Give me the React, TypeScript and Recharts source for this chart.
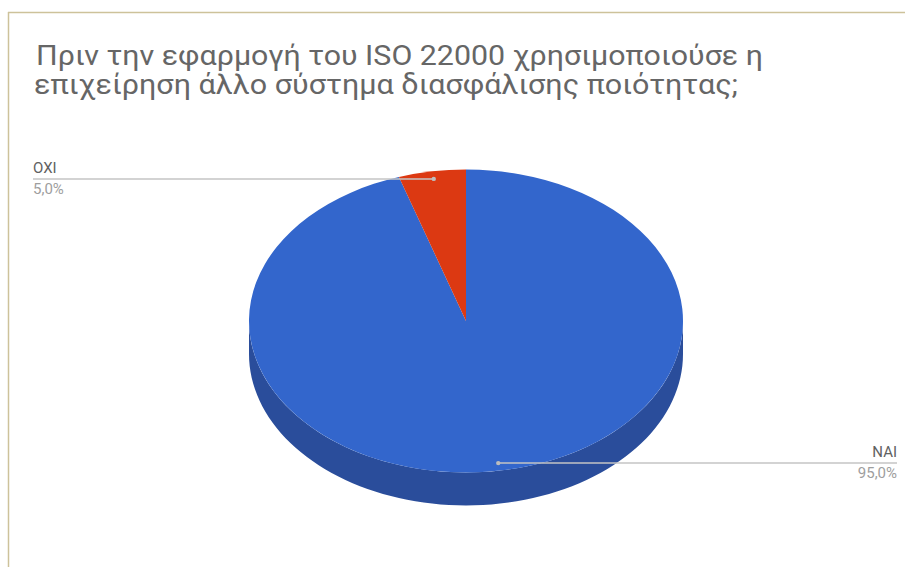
import { PieChart, Pie, Cell } from "recharts";

const categories = ["ΝΑΙ", "ΟΧΙ"];
const values = [95, 5];
const colors = ["#3366cc", "#dc3912"];
const sideColors = ["#2a4d9b", "#a52b0e"];

const titleLines = [
  "Πριν την εφαρμογή του ISO 22000 χρησιμοποιούσε η",
  "επιχείρηση άλλο σύστημα διασφάλισης ποιότητας;",
];

const data = categories.map((name, i) => ({ name, value: values[i] }));

// the 3D look: top face is squashed vertically, side wall below it
const TILT = 0.698;
const DEPTH = 33;
const RAD = Math.PI / 180;

function pt(cx: number, cy: number, r: number, deg: number, dy = 0) {
  return [cx + r * Math.cos(deg * RAD), cy + dy - r * TILT * Math.sin(deg * RAD)];
}

function EllipseSector(props: any) {
  const { cx, cy, outerRadius: r, startAngle, endAngle, index } = props;
  const hi = Math.max(startAngle, endAngle);
  const lo = Math.min(startAngle, endAngle);

  // parts of the slice facing the viewer (sin < 0)
  const walls: string[] = [];
  for (const [fa, fb] of [[-540, -360], [-180, 0], [180, 360]]) {
    const a = Math.max(lo, fa);
    const b = Math.min(hi, fb);
    if (b - a <= 0.01) continue;
    const top: number[][] = [];
    const bot: number[][] = [];
    const n = 80;
    for (let k = 0; k <= n; k++) {
      const d = a + ((b - a) * k) / n;
      top.push(pt(cx, cy, r, d));
      bot.push(pt(cx, cy, r, d, DEPTH));
    }
    const pts = [...top, ...bot.reverse()];
    walls.push("M" + pts.map((p) => p[0].toFixed(2) + "," + p[1].toFixed(2)).join("L") + "Z");
  }

  const [x1, y1] = pt(cx, cy, r, startAngle);
  const [x2, y2] = pt(cx, cy, r, endAngle);
  const large = hi - lo > 180 ? 1 : 0;
  const sweep = startAngle > endAngle ? 1 : 0;
  const face = `M${cx},${cy}L${x1},${y1}A${r},${r * TILT} 0 ${large} ${sweep} ${x2},${y2}Z`;

  return (
    <g>
      {walls.map((w, i) => (
        <path key={i} d={w} fill={sideColors[index]} />
      ))}
      <path d={face} fill={colors[index]} />
    </g>
  );
}

function SliceLabel(props: any) {
  const { cx, cy, outerRadius, midAngle, name, percent } = props;
  const [x, y] = pt(cx, cy, outerRadius * 0.95, midAngle);
  const right = Math.cos(midAngle * RAD) >= 0;
  const endX = right ? 897 : 33;
  const anchor = right ? "end" : "start";
  const pct = (percent * 100).toFixed(1).replace(".", ",") + "%";
  return (
    <g>
      <line x1={x} y1={y} x2={endX} y2={y} stroke="#c4c4c4" strokeWidth={1.5} />
      <circle cx={x} cy={y} r={2.2} fill="#bdbdbd" />
      <text x={endX} y={y - 6} textAnchor={anchor} fontFamily="Roboto" fontSize={15} fill="#616161">
        {name}
      </text>
      <text x={endX} y={y + 15} textAnchor={anchor} fontFamily="Roboto" fontSize={15} fill="#9e9e9e">
        {pct}
      </text>
    </g>
  );
}

export default function App() {
  return (
    <div style={{ position: "absolute", left: 0, top: 0, width: 905, height: 567, background: "#fff" }}>
      <svg width={905} height={567} style={{ position: "absolute", left: 0, top: 0 }}>
        <line x1={8} y1={12.5} x2={905} y2={12.5} stroke="#cdc29a" strokeWidth={1.5} />
        <line x1={8.5} y1={12} x2={8.5} y2={567} stroke="#cdc29a" strokeWidth={1.5} />
        <text fontFamily="Roboto" fontSize={28} fill="#666">
          <tspan x={36} y={65} textLength={727} lengthAdjust="spacingAndGlyphs">
            {titleLines[0]}
          </tspan>
          <tspan x={34} y={94} textLength={704} lengthAdjust="spacingAndGlyphs">
            {titleLines[1]}
          </tspan>
        </text>
      </svg>
      <div style={{ position: "absolute", left: 0, top: 0 }}>
        <PieChart width={905} height={567} margin={{ top: 0, right: 0, bottom: 0, left: 0 }}>
          <Pie
            data={data}
            dataKey="value"
            nameKey="name"
            cx={466}
            cy={321}
            outerRadius={217}
            startAngle={90}
            endAngle={-270}
            stroke="none"
            shape={(p: any) => <EllipseSector {...p} />}
            label={(p: any) => <SliceLabel {...p} />}
            labelLine={false}
            isAnimationActive={false}
          >
            {data.map((d, i) => (
              <Cell key={d.name} fill={colors[i]} />
            ))}
          </Pie>
        </PieChart>
      </div>
    </div>
  );
}
